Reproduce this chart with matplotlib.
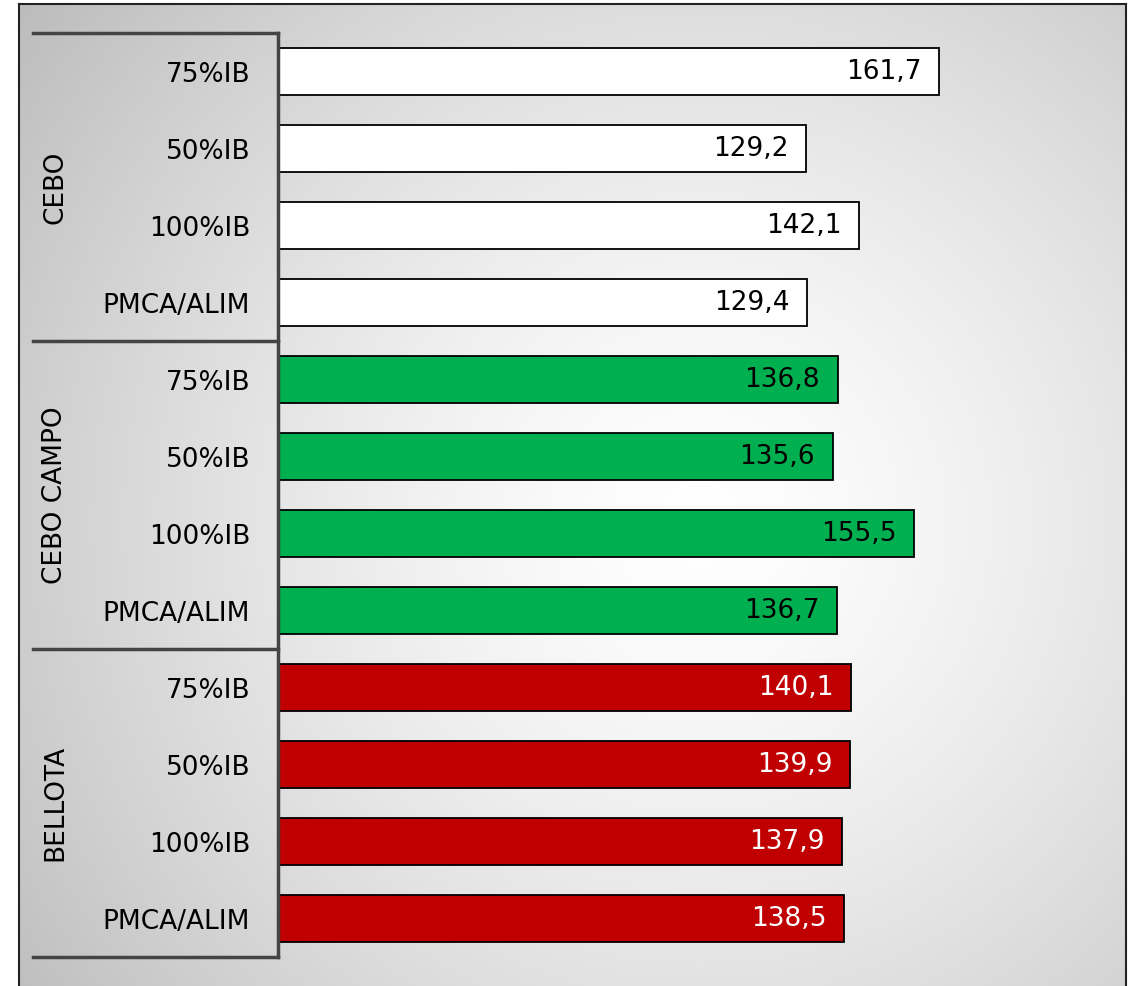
import numpy as np
import matplotlib.pyplot as plt

groups = ['CEBO', 'CEBO CAMPO', 'BELLOTA']
cats = ['75%IB', '50%IB', '100%IB', 'PMCA/ALIM']
vals_cebo = [161.7, 129.2, 142.1, 129.4]
vals_campo = [136.8, 135.6, 155.5, 136.7]
vals_bellota = [140.1, 139.9, 137.9, 138.5]
group_colors = ['#FFFFFF', '#00B050', '#C00000']
text_colors = ['black', 'black', 'white']

W, H = 1132, 986
fig = plt.figure(figsize=(W / 100, H / 100), dpi=100)

# background panel with radial gradient
bx0, bx1, by0 = 19, 1126, 4
bg = fig.add_axes([bx0 / W, -0.02, (bx1 - bx0) / W, 1 - by0 / H + 0.02])
yy, xx = np.mgrid[0:H + 20, bx0:bx1]
r = np.hypot(xx - 700, yy - 520) / 800
g = np.clip(1 - 0.24 * r ** 1.4, 0, 1)
bg.imshow(np.dstack([g, g, g]), aspect='auto', extent=[0, 1, 0, 1], interpolation='bilinear')
bg.set_xticks([])
bg.set_yticks([])
for s in bg.spines.values():
    s.set_linewidth(1.5)
    s.set_color('#222222')

# main axes
ax_l, ax_r, ax_t, ax_b = 278, 1096, 33, 957
ax = fig.add_axes([ax_l / W, 1 - ax_b / H, (ax_r - ax_l) / W, (ax_b - ax_t) / H])
ax.patch.set_alpha(0)

all_vals = [vals_cebo, vals_campo, vals_bellota]
labels = []
pos = 0
for gi, vals in enumerate(all_vals):
    for ci, v in enumerate(vals):
        ax.barh(pos, v, height=0.6, color=group_colors[gi], edgecolor='black', linewidth=1.3, zorder=3)
        ax.text(v - 4.3, pos, f'{v:.1f}'.replace('.', ','), ha='right', va='center',
                fontsize=19, color=text_colors[gi], zorder=4)
        labels.append(cats[ci])
        pos += 1

ax.set_ylim(11.5, -0.5)
ax.set_xlim(0, 200)
ax.set_yticks(range(12))
ax.set_yticklabels(labels, fontsize=19)
ax.tick_params(axis='y', length=0, pad=20)
ax.set_xticks([])
for s in ax.spines.values():
    s.set_visible(False)

# group separators and axis line
xl = (33 - ax_l) / (ax_r - ax_l)
trans = ax.get_yaxis_transform()
for b in [-0.5, 3.5, 7.5, 11.5]:
    ax.plot([xl, 0], [b, b], transform=trans, color='#444444', lw=2.5, clip_on=False, zorder=5)
ax.plot([0, 0], [-0.5, 11.5], transform=trans, color='#444444', lw=2.5, clip_on=False, zorder=5)

xg = (55 - ax_l) / (ax_r - ax_l)
for gi, name in enumerate(groups):
    ax.text(xg, gi * 4 + 1.5, name, rotation=90, ha='center', va='center',
            fontsize=19, transform=trans)

plt.savefig('out.png', dpi=100)
